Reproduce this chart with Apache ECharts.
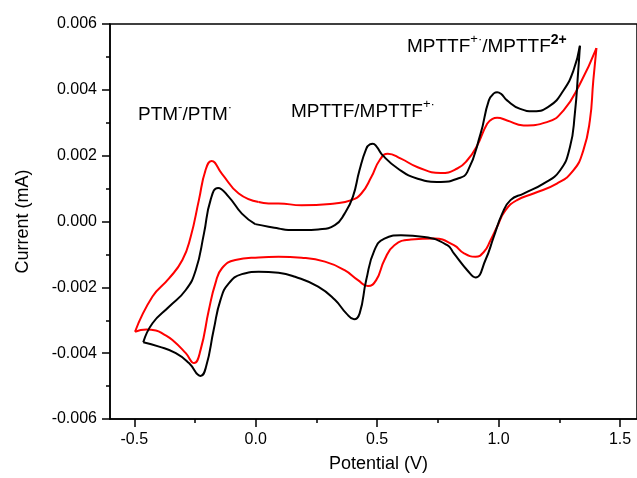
<!DOCTYPE html>
<html>
<head>
<meta charset="utf-8">
<script src="https://cdn.jsdelivr.net/npm/echarts@6/dist/echarts.min.js"></script>
<style>
html, body { margin: 0; padding: 0; background: #fff; }
#main { width: 637px; height: 478px; }
</style>
</head>
<body>
<div id="main"></div>
<script>
// tick labels
var xTicks = [-0.5, 0, 0.5, 1, 1.5];
var xMinorTicks = [-0.25, 0.25, 0.75, 1.25];

// black scan, potential (V) / current (mA), one array pair per sweep
var blackFwdV = [-0.002, 0.053, 0.094, 0.134, 0.2, 0.257, 0.326, 0.366, 0.4, 0.427, 0.455, 0.47, 0.482, 0.497, 0.523, 0.585, 0.667, 0.762, 0.83, 0.871,
	0.926, 0.96, 0.982, 0.994, 1.01, 1.035, 1.089, 1.144, 1.212, 1.267, 1.308, 1.335];
var blackFwdI = [-0.00008, -0.00016, -0.00021, -0.00026, -0.00026, -0.00024, -0.00011, 0.00024, 0.00075, 0.00155, 0.00221, 0.00234, 0.00236, 0.00228, 0.00201, 0.00161, 0.0013, 0.0012, 0.0013, 0.0015,
	0.00267, 0.00368, 0.0039, 0.00393, 0.00388, 0.00368, 0.00342, 0.00335, 0.00352, 0.00398, 0.00458, 0.00534];
var blackRevV = [1.335, 1.328, 1.314, 1.294, 1.253, 1.185, 1.103, 1.049, 1.015, 0.98, 0.946, 0.905, 0.871, 0.816, 0.789, 0.694, 0.598, 0.53, 0.489,
	0.455, 0.428, 0.405, 0.373, 0.326, 0.257, 0.162, 0.094, 0.012, -0.057, -0.111, -0.145, -0.173, -0.204, -0.227, -0.275,
	-0.329, -0.398, -0.463];
var blackRevI = [0.00534, 0.00458, 0.00327, 0.00226, 0.00155, 0.00115, 0.00085, 0.00065, 0.00024, -0.00047, -0.00117, -0.0017, -0.00148, -0.00097, -0.00072, -0.00047, -0.00042, -0.00052, -0.00087,
	-0.00178, -0.00279, -0.00297, -0.00279, -0.00238, -0.00198, -0.00168, -0.00156, -0.00153, -0.0016, -0.00188, -0.00238, -0.00329, -0.0044, -0.00469, -0.0043,
	-0.004, -0.0038, -0.00367];
var blackEndV = [-0.463, -0.425, -0.357, -0.288, -0.247, -0.213, -0.186, -0.155, -0.111, -0.057, -0.002];
var blackEndI = [-0.00367, -0.00309, -0.00259, -0.00208, -0.00148, -0.00036, 0.00065, 0.00102, 0.00075, 0.00024, -0.00008];

// red scan
var redFwdV = [0.012, 0.053, 0.094, 0.189, 0.326, 0.394, 0.435, 0.476, 0.51, 0.544, 0.598, 0.667, 0.762, 0.83, 0.871,
	0.912, 0.953, 0.975, 0.994, 1.035, 1.103, 1.199, 1.267, 1.335, 1.403];
var redFwdI = [0.00059, 0.00055, 0.00055, 0.00049, 0.00055, 0.00065, 0.00085, 0.00135, 0.00186, 0.00206, 0.00191, 0.00165, 0.00147, 0.00161, 0.00186,
	0.00231, 0.00297, 0.00312, 0.00315, 0.00307, 0.00292, 0.00302, 0.00337, 0.00418, 0.00527];
var redRevV = [1.403, 1.39, 1.376, 1.349, 1.308, 1.24, 1.144, 1.076, 1.028, 0.994, 0.967, 0.94, 0.905, 0.858, 0.816, 0.735, 0.639, 0.571,
	0.53, 0.496, 0.462, 0.421, 0.366, 0.285, 0.189, 0.094, 0.012, -0.084, -0.139, -0.166, -0.193, -0.227, -0.254,
	-0.288, -0.343, -0.38, -0.411, -0.45, -0.497];
var redRevI = [0.00527, 0.00428, 0.00307, 0.00216, 0.00155, 0.00115, 0.00085, 0.00065, 0.00034, -0.00016, -0.00057, -0.00092, -0.00107, -0.00097, -0.00072, -0.00052, -0.00055, -0.00072,
	-0.00117, -0.00178, -0.00196, -0.00178, -0.00148, -0.00122, -0.0011, -0.00107, -0.00109, -0.00117, -0.00142, -0.00188, -0.00269, -0.0039, -0.0043,
	-0.004, -0.0036, -0.00342, -0.00331, -0.00328, -0.00335];
var redEndV = [-0.497, -0.425, -0.357, -0.302, -0.268, -0.234, -0.207, -0.182, -0.139, -0.07, 0.012];
var redEndI = [-0.00335, -0.00228, -0.00173, -0.00117, -0.00047, 0.00065, 0.00155, 0.00184, 0.00145, 0.00085, 0.00059];

function zip(a, b) {
	var out = [];
	for (var i = 0; i < a.length; i++) {
		out.push([a[i], b[i]]);
	}
	return out;
}

function sweep(v, i, color) {
	return {
		type: 'line',
		data: zip(v, i),
		symbol: 'none',
		smooth: 0.5,
		lineStyle: { color: color, width: 2 },
		itemStyle: { color: color }
	};
}

var font = '"Liberation Sans", Arial, sans-serif';
var supRich = {
	s: { fontSize: 13, lineHeight: 10, verticalAlign: 'top', fontFamily: font, fill: '#000' },
	b: { fontSize: 14, lineHeight: 10, verticalAlign: 'top', fontWeight: 'bold', fontFamily: font, fill: '#000' }
};

function label(x, y, text) {
	return {
		type: 'text',
		x: x,
		y: y,
		style: {
			text: text,
			fontSize: 19,
			fontFamily: font,
			lineHeight: 28,
			fill: '#000',
			verticalAlign: 'middle',
			rich: supRich
		}
	};
}

var chart = echarts.init(document.getElementById('main'));
chart.setOption({
	animation: false,
	backgroundColor: '#fff',
	grid: {
		left: 110, right: -2, top: 24, bottom: 58,
		show: true, borderColor: '#000', borderWidth: 1.5
	},
	xAxis: [{
		type: 'value',
		min: -0.6,
		max: 1.57,
		position: 'bottom',
		name: 'Potential (V)',
		nameLocation: 'middle',
		nameGap: 36,
		nameTextStyle: { fontSize: 18, fontFamily: font, color: '#000', padding: [0, 0, 0, 10] },
		axisLine: { onZero: false, lineStyle: { color: '#000', width: 1.5 } },
		axisTick: { customValues: xTicks, length: 8, lineStyle: { color: '#000', width: 1.5 } },
		axisLabel: {
			customValues: xTicks, margin: 13, fontSize: 16, fontFamily: font, color: '#000',
			formatter: function (v) { return v.toFixed(1); }
		},
		splitLine: { show: false }
	}, {
		type: 'value',
		min: -0.6,
		max: 1.57,
		position: 'bottom',
		axisLine: { show: false, onZero: false },
		axisTick: { customValues: xMinorTicks, length: 4, lineStyle: { color: '#000', width: 1.5 } },
		axisLabel: { show: false },
		splitLine: { show: false }
	}],
	yAxis: {
		type: 'value',
		min: -0.006,
		max: 0.006,
		interval: 0.002,
		name: 'Current (mA)',
		nameLocation: 'middle',
		nameGap: 78,
		nameTextStyle: { fontSize: 18, fontFamily: font, color: '#000' },
		axisLine: { onZero: false, lineStyle: { color: '#000', width: 1.5 } },
		axisTick: { length: 8, lineStyle: { color: '#000', width: 1.5 } },
		minorTick: { show: true, splitNumber: 2, length: 4, lineStyle: { color: '#000', width: 1.5 } },
		axisLabel: {
			margin: 13, fontSize: 16, fontFamily: font, color: '#000',
			formatter: function (v) { return Math.abs(v) < 1e-9 ? '0.000' : v.toFixed(3); }
		},
		splitLine: { show: false }
	},
	graphic: [
		label(138, 115, 'PTM{s|-}/PTM{s|·}'),
		label(291, 112, 'MPTTF/MPTTF{s|+·}'),
		label(407, 47, 'MPTTF{s|+·}/MPTTF{b|2+}')
	],
	series: [
		sweep(redFwdV, redFwdI, '#ff0000'),
		sweep(redRevV, redRevI, '#ff0000'),
		sweep(redEndV, redEndI, '#ff0000'),
		sweep(blackFwdV, blackFwdI, '#000000'),
		sweep(blackRevV, blackRevI, '#000000'),
		sweep(blackEndV, blackEndI, '#000000')
	]
});
</script>
</body>
</html>
